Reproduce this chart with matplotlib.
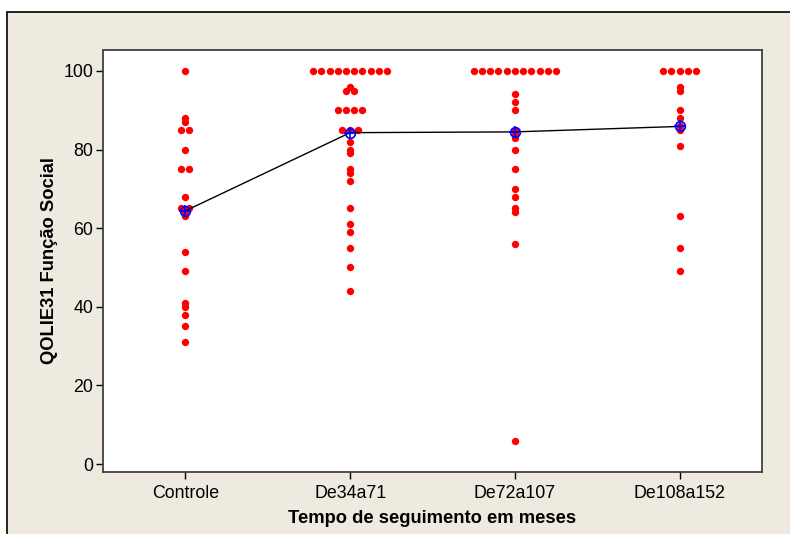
import matplotlib
matplotlib.use("Agg")
import matplotlib.pyplot as plt
import numpy as np
from matplotlib.patches import Rectangle

plt.rcParams["font.family"] = ["Liberation Sans", "DejaVu Sans"]

groups = ["Controle", "De34a71", "De72a107", "De108a152"]

controle = [100, 88, 87, 85, 85, 80, 75, 75, 68, 65, 65, 64, 63, 54, 49, 41, 40, 38, 35, 31]
de34a71 = [100] * 10 + [96, 95, 95] + [90] * 4 + [85] * 3 + [82, 80, 79, 75, 74, 72, 65, 61, 59, 55, 50, 44]
de72a107 = [100] * 11 + [94, 92, 90, 85, 84, 83, 80, 75, 70, 68, 65, 64, 56, 6]
de108a152 = [100] * 5 + [96, 95, 90, 88, 86, 85, 81, 63, 55, 49]

values = [controle, de34a71, de72a107, de108a152]

y_ticks = [0, 20, 40, 60, 80, 100]

fig = plt.figure(figsize=(7.9, 5.34), dpi=100)
fig.patch.set_facecolor("white")

# beige panel behind the plot
panel = Rectangle((7 / 790, -0.05), 1.0, (534 - 12) / 534 + 0.05,
                  transform=fig.transFigure, facecolor="#EEEAE0",
                  edgecolor="black", linewidth=1.2, zorder=-10)
fig.patches.append(panel)

ax = fig.add_axes([103 / 790, (534 - 472) / 534, (762 - 103) / 790, (472 - 50) / 534])
ax.set_zorder(5)
ax.set_facecolor("white")

# individual values, ties spread sideways
step = 0.05
for i, vals in enumerate(values):
    uniq, counts = np.unique(vals, return_counts=True)
    for v, n in zip(uniq, counts):
        offs = (np.arange(n) - (n - 1) / 2) * step
        ax.plot(i + offs, [v] * n, "o", color="red", markersize=5.3,
                markeredgewidth=0, zorder=3)

# group means joined by a line
means = [np.mean(v) for v in values]
ax.plot(range(len(groups)), means, "-", color="black", linewidth=1, zorder=4)
ax.plot(range(len(groups)), means, "o", markerfacecolor="none",
        markeredgecolor="blue", markersize=7, markeredgewidth=1.2, zorder=5)
ax.plot(range(len(groups)), means, "+", color="blue", markersize=9,
        markeredgewidth=1.2, zorder=5)

ax.set_xlim(-0.5, 3.5)
ax.set_ylim(-2, 105.3)
ax.set_xticks(range(len(groups)))
ax.set_xticklabels(groups, fontsize=12.8)
ax.set_yticks(y_ticks)
ax.set_yticklabels([str(t) for t in y_ticks], fontsize=12.8)
ax.tick_params(axis="both", direction="out", length=5, width=1, color="black")
ax.tick_params(axis="y", pad=2)
ax.tick_params(axis="x", pad=4)

for s in ax.spines.values():
    s.set_color("#404040")
    s.set_linewidth(1.3)

ax.set_xlabel("Tempo de seguimento em meses", fontsize=13.2, fontweight="bold", labelpad=6)
ax.set_ylabel("QOLIE31 Função Social", fontsize=13.2, fontweight="bold", labelpad=4)

fig.savefig("out.png", dpi=100, facecolor=fig.get_facecolor())
